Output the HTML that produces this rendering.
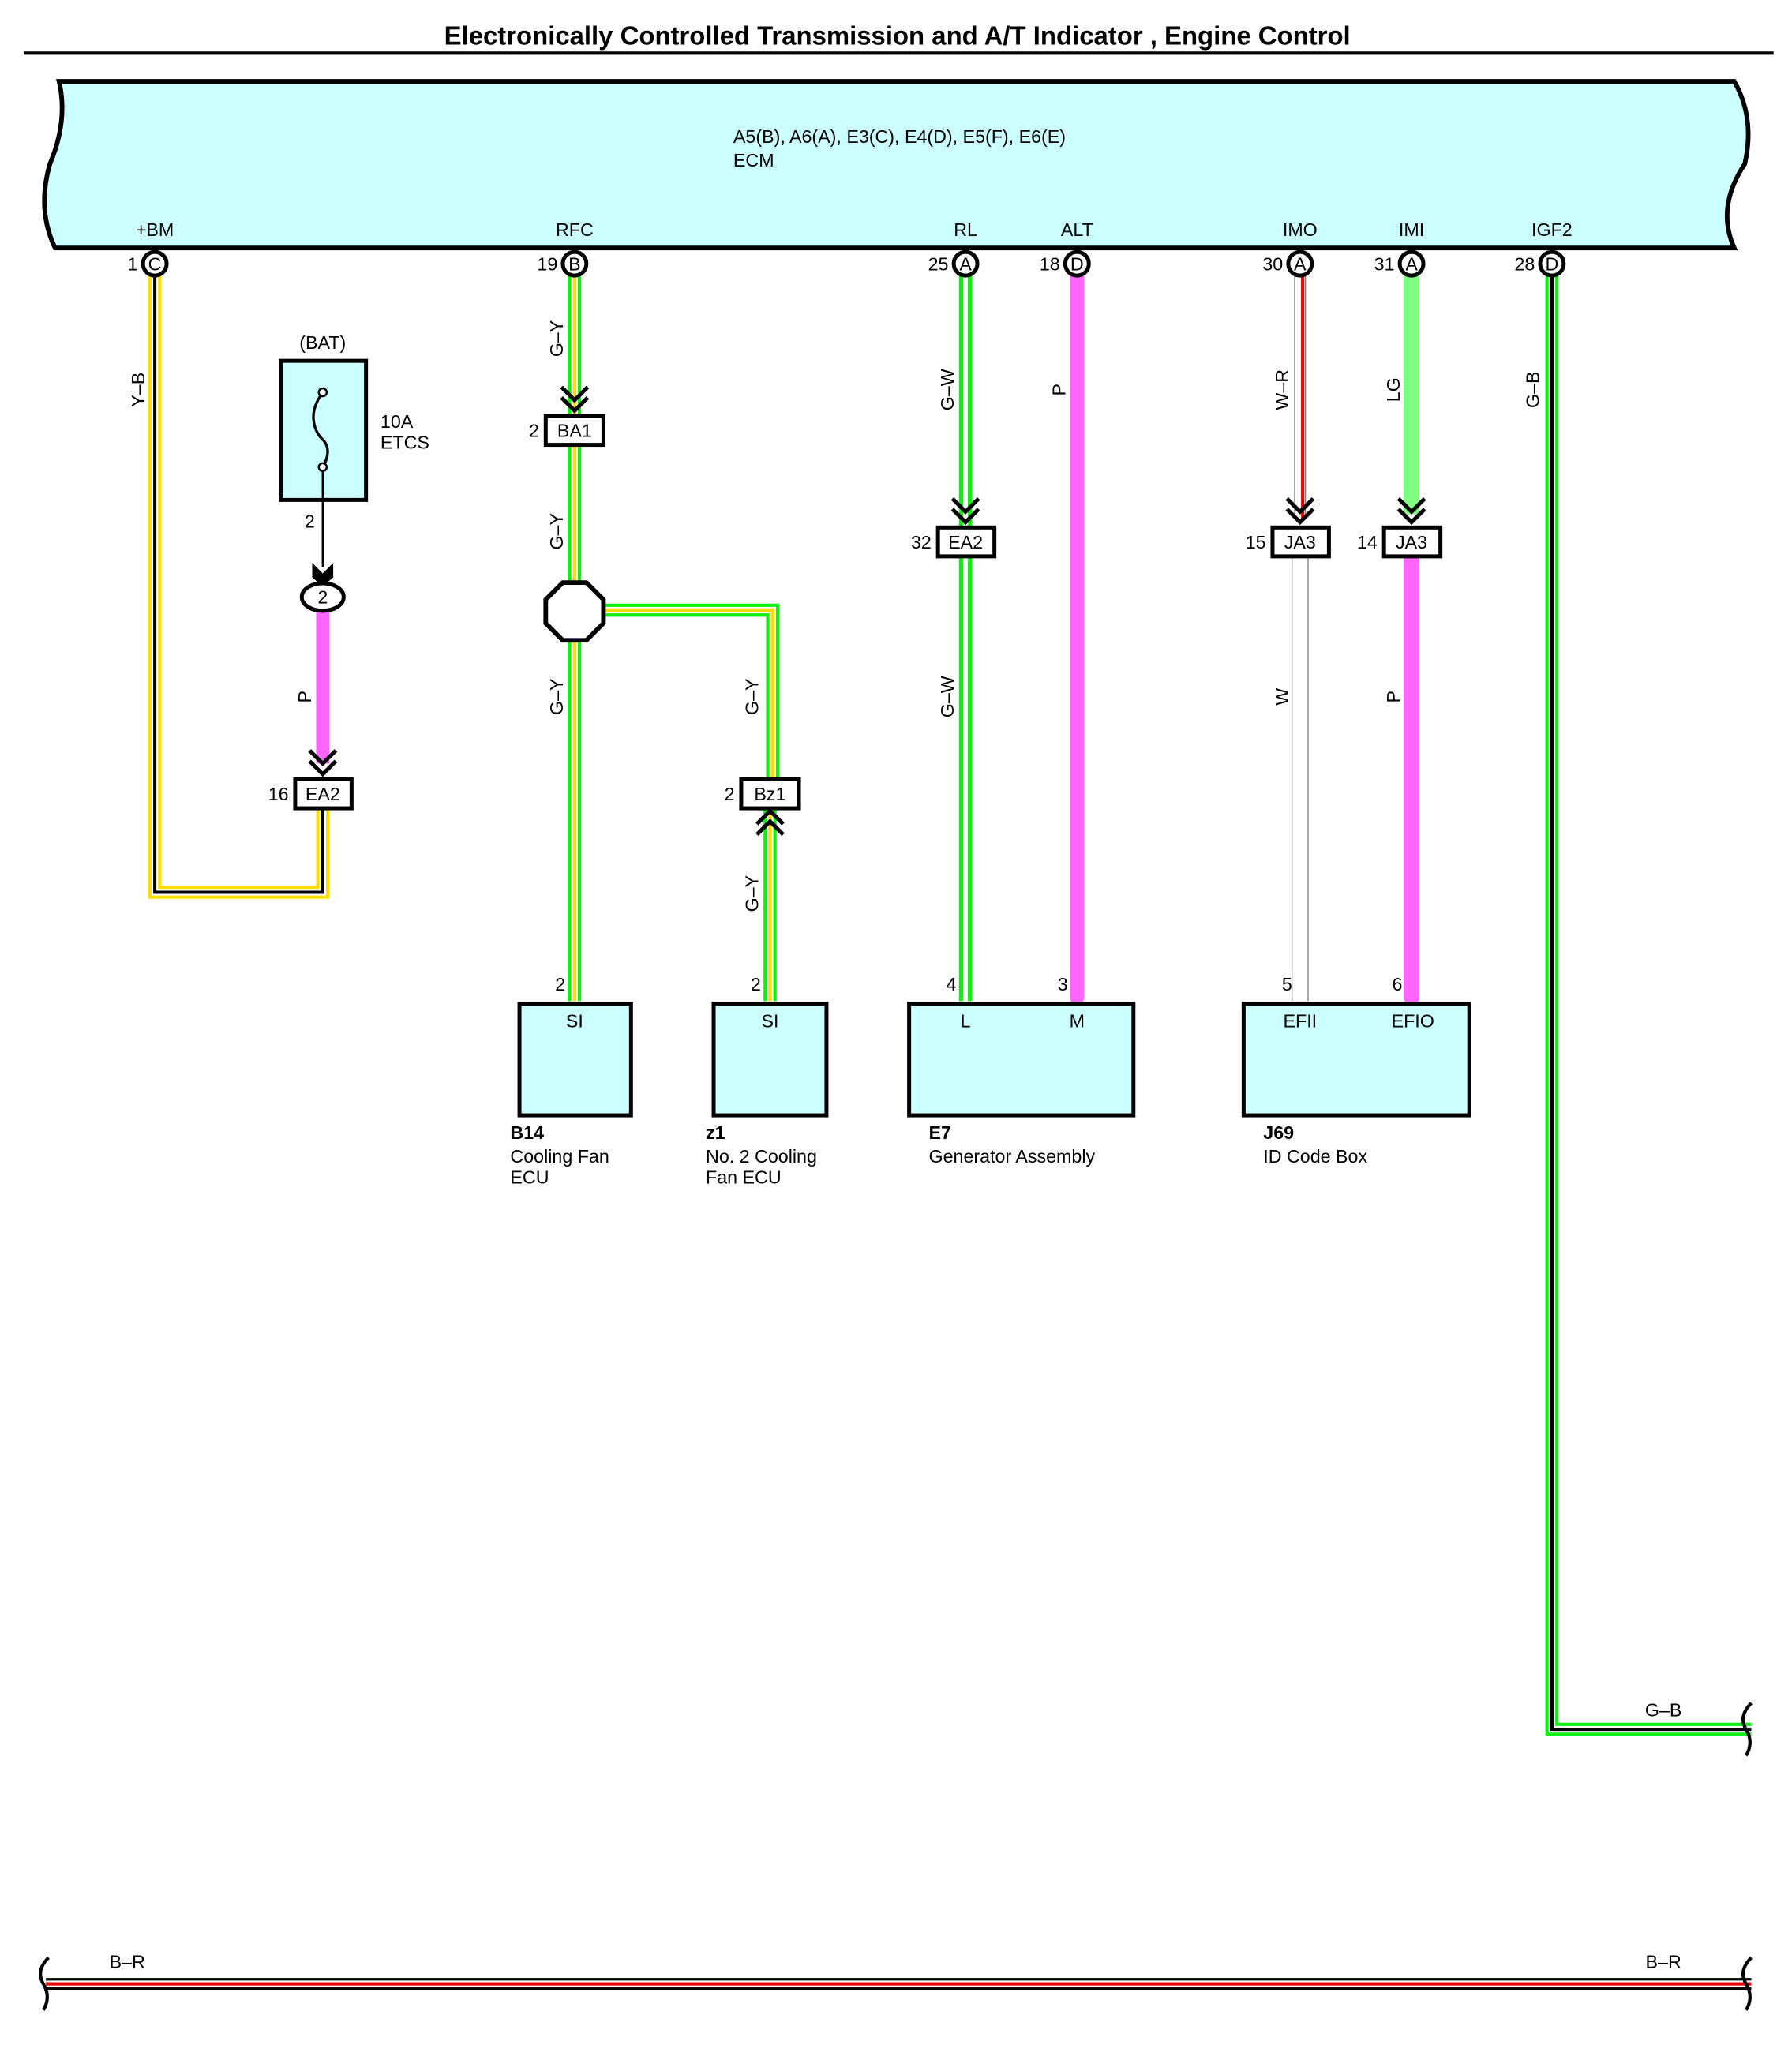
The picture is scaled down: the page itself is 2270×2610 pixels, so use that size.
<!DOCTYPE html>
<html><head><meta charset="utf-8"><style>
html,body{margin:0;padding:0;background:#fff}
svg{display:block}
text{font-family:"Liberation Sans",Arial,sans-serif;font-size:14px;fill:#000}
.n{font-size:14px}
</style></head><body>
<svg width="2270" height="2610" viewBox="0 0 1366 1570" preserveAspectRatio="none" xmlns="http://www.w3.org/2000/svg">
<rect width="1366" height="1570" fill="#fff"/>
<text x="684" y="34" text-anchor="middle" font-weight="bold" style="font-size:19.8px">Electronically Controlled Transmission and A/T Indicator , Engine Control</text>
<line x1="18" y1="40.5" x2="1352" y2="40.5" stroke="#000" stroke-width="2.5"/>

<!-- ECM -->
<path d="M45,62 L1322,62 Q1338,90 1330,125 Q1308,158 1322,189 L42,189 Q28,160 38,125 Q52,92 45,62 Z" fill="#ccffff" stroke="#000" stroke-width="3.5"/>
<text x="559" y="109">A5(B), A6(A), E3(C), E4(D), E5(F), E6(E)</text>
<text x="559" y="127">ECM</text>

<g text-anchor="middle">
<text x="118" y="180">+BM</text><text x="438" y="180">RFC</text><text x="736" y="180">RL</text><text x="821" y="180">ALT</text>
<text x="991" y="180">IMO</text><text x="1076" y="180">IMI</text><text x="1183" y="180">IGF2</text>
</g>

<!-- wires -->
<g fill="none" stroke-linejoin="miter">
<polyline points="118,210 118,680 246,680 246,617" stroke="#ffdd00" stroke-width="10"/>
<polyline points="118,210 118,680 246,680 246,617" stroke="#fff" stroke-width="5"/>
<polyline points="118,210 118,680 246,680 246,617" stroke="#000" stroke-width="2.4"/>
<line x1="246" y1="466" x2="246" y2="582" stroke="#ff66ff" stroke-width="10"/>
<g stroke="#11ee11" stroke-width="10"><line x1="438" y1="210" x2="438" y2="763"/><polyline points="458,465 589,465 589,594"/><line x1="587" y1="617" x2="587" y2="763"/></g>
<g stroke="#fff" stroke-width="5"><line x1="438" y1="210" x2="438" y2="763"/><polyline points="458,465 589,465 589,594"/><line x1="587" y1="617" x2="587" y2="763"/></g>
<g stroke="#ffdd00" stroke-width="2.8"><line x1="438" y1="210" x2="438" y2="763"/><polyline points="458,465 589,465 589,594"/><line x1="587" y1="617" x2="587" y2="763"/></g>
<line x1="736" y1="210" x2="736" y2="763" stroke="#11ee11" stroke-width="10"/>
<line x1="736" y1="210" x2="736" y2="763" stroke="#fff" stroke-width="3.5"/>
<line x1="821" y1="210" x2="821" y2="760" stroke="#ff66ff" stroke-width="11" stroke-linecap="round"/>
<line x1="991" y1="210" x2="991" y2="395" stroke="#777" stroke-width="9"/>
<line x1="991" y1="210" x2="991" y2="395" stroke="#fff" stroke-width="7.5"/>
<line x1="993" y1="210" x2="993" y2="395" stroke="#e00" stroke-width="2.5"/>
<line x1="991" y1="424" x2="991" y2="763" stroke="#777" stroke-width="13"/>
<line x1="991" y1="424" x2="991" y2="763" stroke="#fff" stroke-width="11.5"/>
<line x1="1076" y1="210" x2="1076" y2="392" stroke="#80ff80" stroke-width="12"/>
<line x1="1076" y1="424" x2="1076" y2="760" stroke="#ff66ff" stroke-width="12" stroke-linecap="round"/>
<polyline points="1183,210 1183,1318 1335,1318" stroke="#11ee11" stroke-width="10"/>
<polyline points="1183,210 1183,1318 1335,1318" stroke="#fff" stroke-width="5"/>
<polyline points="1183,210 1183,1318 1335,1318" stroke="#000" stroke-width="2.5"/>
<line x1="35" y1="1512" x2="1335" y2="1512" stroke="#000" stroke-width="9"/>
<line x1="35" y1="1512" x2="1335" y2="1512" stroke="#fff" stroke-width="5"/>
<line x1="35" y1="1512" x2="1335" y2="1512" stroke="#e00" stroke-width="2.5"/>
</g>
<g fill="none" stroke="#000" stroke-width="2.5">
<path d="M1335,1298 Q1325,1308 1331,1318 Q1337,1328 1331,1338"/>
<path d="M1335,1492 Q1325,1502 1331,1512 Q1337,1522 1331,1532"/>
<path d="M37,1492 Q27,1502 33,1512 Q39,1522 33,1532"/>
</g>

<g fill="#fff" stroke="#000" stroke-width="3">
<circle cx="118" cy="201" r="9"/><circle cx="438" cy="201" r="9"/><circle cx="736" cy="201" r="9"/><circle cx="821" cy="201" r="9"/>
<circle cx="991" cy="201" r="9"/><circle cx="1076" cy="201" r="9"/><circle cx="1183" cy="201" r="9"/>
</g>
<g text-anchor="middle">
<text x="118" y="206">C</text><text x="438" y="206">B</text><text x="736" y="206">A</text><text x="821" y="206">D</text>
<text x="991" y="206">A</text><text x="1076" y="206">A</text><text x="1183" y="206">D</text>
</g>
<g text-anchor="end">
<text x="105" y="206">1</text><text x="425" y="206">19</text><text x="723" y="206">25</text><text x="808" y="206">18</text>
<text x="978" y="206">30</text><text x="1063" y="206">31</text><text x="1170" y="206">28</text>
</g>

<text x="246" y="266" text-anchor="middle">(BAT)</text>
<rect x="214" y="275" width="65" height="106" fill="#ccffff" stroke="#000" stroke-width="3"/>
<path d="M246,299 Q238,310 239,320 Q240,330 247,336 Q253,344 246,356" fill="none" stroke="#000" stroke-width="2"/>
<circle cx="246" cy="299" r="3" fill="#fff" stroke="#000" stroke-width="1.5"/>
<circle cx="246" cy="356" r="3" fill="#fff" stroke="#000" stroke-width="1.5"/>
<text x="290" y="326">10A</text><text x="290" y="342">ETCS</text>
<line x1="246" y1="359" x2="246" y2="432" stroke="#000" stroke-width="1.5"/>
<path d="M238,429 L246,437 L254,429 L254,440 L246,447 L238,440 Z" fill="#000"/>
<text x="240" y="402" text-anchor="end">2</text>
<ellipse cx="246" cy="455" rx="16" ry="10.5" fill="#fff" stroke="#000" stroke-width="3"/>
<text x="246" y="460" text-anchor="middle">2</text>

<g fill="none" stroke="#000" stroke-width="3">
<path d="M236,572 L246,582 L256,572 M236,580 L246,590 L256,580"/>
<path d="M428,295 L438,305 L448,295 M428,303 L438,313 L448,303"/>
<path d="M726,380 L736,390 L746,380 M726,388 L736,398 L746,388"/>
<path d="M981,380 L991,390 L1001,380 M981,388 L991,398 L1001,388"/>
<path d="M1066,380 L1076,390 L1086,380 M1066,388 L1076,398 L1086,388"/>
<path d="M577,628 L587,618 L597,628 M577,636 L587,626 L597,636"/>
</g>

<g fill="#fff" stroke="#000" stroke-width="3">
<rect x="225" y="594" width="43" height="22"/>
<rect x="416" y="317" width="44" height="22"/>
<rect x="565" y="594" width="44" height="22"/>
<rect x="715" y="402" width="43" height="22"/>
<rect x="970" y="402" width="43" height="22"/>
<rect x="1055" y="402" width="43" height="22"/>
</g>
<g text-anchor="middle">
<text x="246" y="610">EA2</text><text x="438" y="333">BA1</text><text x="587" y="610">Bz1</text>
<text x="736" y="418">EA2</text><text x="991" y="418">JA3</text><text x="1076" y="418">JA3</text>
</g>
<g text-anchor="end">
<text x="220" y="610">16</text><text x="411" y="333">2</text><text x="560" y="610">2</text>
<text x="710" y="418">32</text><text x="965" y="418">15</text><text x="1050" y="418">14</text>
</g>

<polygon points="429,444 447,444 460,457 460,475 447,488 429,488 416,475 416,457" fill="#fff" stroke="#000" stroke-width="3.5"/>

<g>
<text transform="translate(110,297) rotate(-90)" text-anchor="middle">Y–B</text>
<text transform="translate(429,258) rotate(-90)" text-anchor="middle">G–Y</text>
<text transform="translate(429,405) rotate(-90)" text-anchor="middle">G–Y</text>
<text transform="translate(429,531) rotate(-90)" text-anchor="middle">G–Y</text>
<text transform="translate(578,531) rotate(-90)" text-anchor="middle">G–Y</text>
<text transform="translate(578,681) rotate(-90)" text-anchor="middle">G–Y</text>
<text transform="translate(237,531) rotate(-90)" text-anchor="middle">P</text>
<text transform="translate(727,297) rotate(-90)" text-anchor="middle">G–W</text>
<text transform="translate(727,531) rotate(-90)" text-anchor="middle">G–W</text>
<text transform="translate(812,297) rotate(-90)" text-anchor="middle">P</text>
<text transform="translate(982,297) rotate(-90)" text-anchor="middle">W–R</text>
<text transform="translate(982,531) rotate(-90)" text-anchor="middle">W</text>
<text transform="translate(1067,297) rotate(-90)" text-anchor="middle">LG</text>
<text transform="translate(1067,531) rotate(-90)" text-anchor="middle">P</text>
<text transform="translate(1173,297) rotate(-90)" text-anchor="middle">G–B</text>
</g>
<text x="1268" y="1308" text-anchor="middle">G–B</text>
<text x="97" y="1500" text-anchor="middle">B–R</text>
<text x="1268" y="1500" text-anchor="middle">B–R</text>

<g fill="#ccffff" stroke="#000" stroke-width="3">
<rect x="396" y="765" width="85" height="85"/>
<rect x="544" y="765" width="86" height="85"/>
<rect x="693" y="765" width="171" height="85"/>
<rect x="948" y="765" width="172" height="85"/>
</g>
<g text-anchor="end">
<text x="431" y="755">2</text><text x="580" y="755">2</text><text x="729" y="755">4</text><text x="814" y="755">3</text>
<text x="985" y="755">5</text><text x="1069" y="755">6</text>
</g>
<g text-anchor="middle">
<text x="438" y="783">SI</text><text x="587" y="783">SI</text><text x="736" y="783">L</text><text x="821" y="783">M</text>
<text x="991" y="783">EFII</text><text x="1077" y="783">EFIO</text>
</g>
<text x="389" y="868" font-weight="bold">B14</text><text x="389" y="886">Cooling Fan</text><text x="389" y="902">ECU</text>
<text x="538" y="868" font-weight="bold">z1</text><text x="538" y="886">No. 2 Cooling</text><text x="538" y="902">Fan ECU</text>
<text x="708" y="868" font-weight="bold">E7</text><text x="708" y="886">Generator Assembly</text>
<text x="963" y="868" font-weight="bold">J69</text><text x="963" y="886">ID Code Box</text>
</svg>
</body></html>
